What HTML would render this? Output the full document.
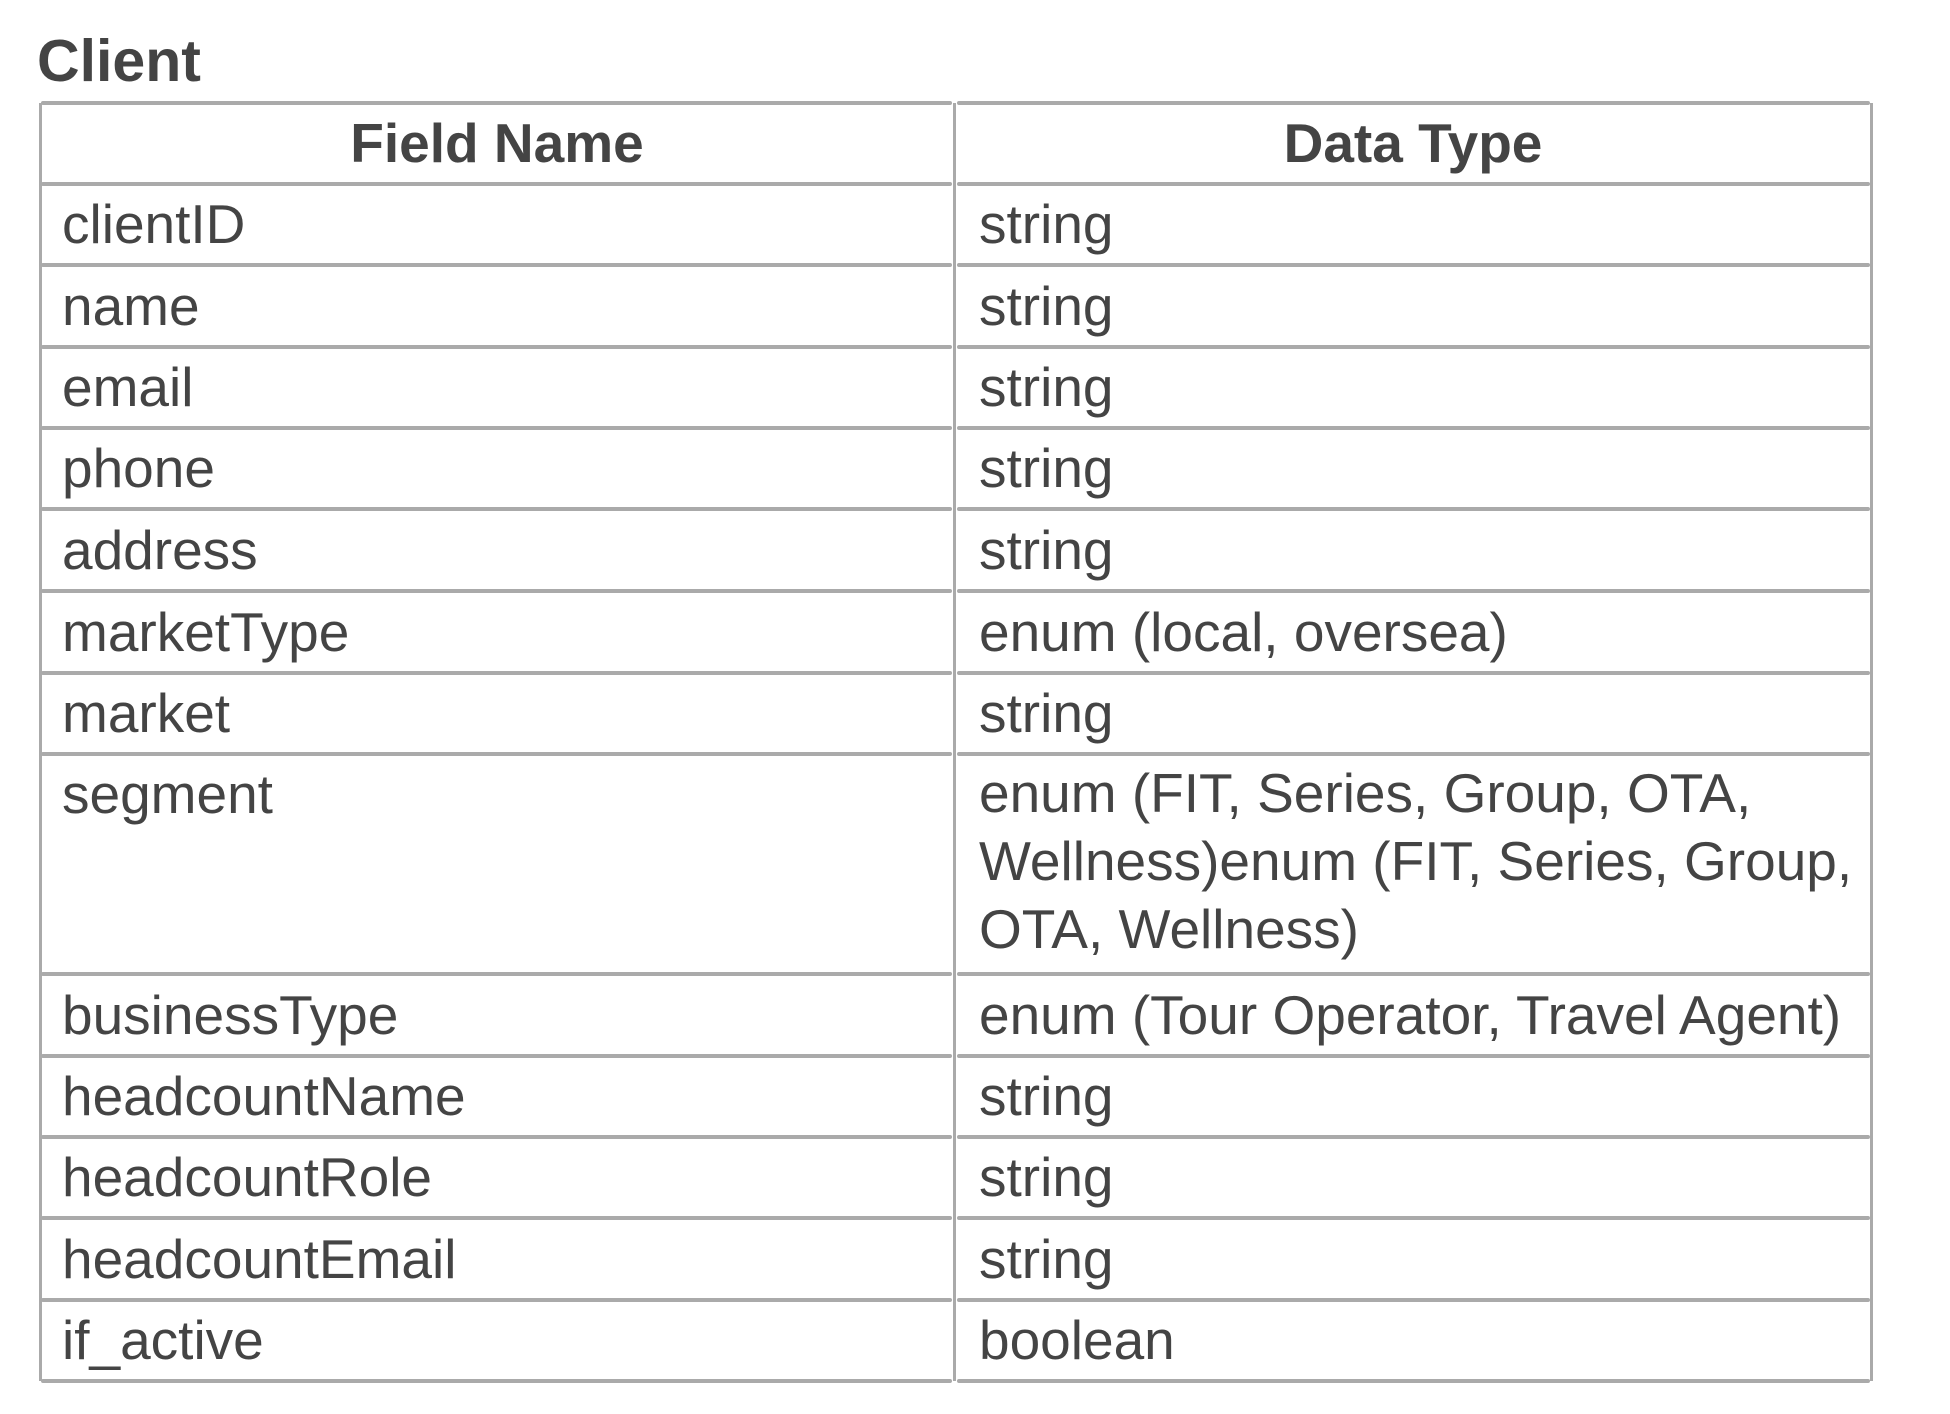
<!DOCTYPE html>
<html><head><meta charset="utf-8"><style>
html,body{margin:0;padding:0;background:#fff;width:1950px;height:1414px;overflow:hidden;}
body{position:relative;font-family:"Liberation Sans",Arial,sans-serif;color:#444;}
.t{position:absolute;left:37px;top:29px;font-size:59px;font-weight:bold;line-height:64px;}
.h{position:absolute;background:#aaa;height:4px;border-radius:2px;}
.v{position:absolute;background:#aaa;width:3px;}
.c{position:absolute;font-size:55px;white-space:nowrap;}
.b{font-weight:bold;font-size:55px;text-align:center;}
</style></head><body>
<div class="t">Client</div>
<div id="g"></div>
<script>
var ys=[103,184,265,347,428,509,591,673,754,974,1056,1137,1218,1300,1381];
var L=[["clientID","string"],["name","string"],["email","string"],["phone","string"],["address","string"],["marketType","enum (local, oversea)"],["market","string"],["segment","enum (FIT, Series, Group, OTA,<br>Wellness)enum (FIT, Series, Group,<br>OTA, Wellness)"],["businessType","enum (Tour Operator, Travel Agent)"],["headcountName","string"],["headcountRole","string"],["headcountEmail","string"],["if_active","boolean"]];
var h="";
ys.forEach(function(y){h+='<div class="h" style="left:41px;width:911px;top:'+(y-2)+'px"></div><div class="h" style="left:957px;width:913px;top:'+(y-2)+'px"></div>';});
[40,954,1871].forEach(function(x){h+='<div class="v" style="left:'+(x-1)+'px;top:103px;height:1278px"></div>';});
h+='<div class="c b" style="left:40px;width:914px;top:103px;line-height:81px">Field Name</div>';
h+='<div class="c b" style="left:955px;width:916px;top:103px;line-height:81px">Data Type</div>';
for(var i=0;i<L.length;i++){var t=ys[i+1],b=ys[i+2];
 if(i==7){h+='<div class="c" style="left:62px;top:'+t+'px;line-height:81px">'+L[i][0]+'</div><div class="c" style="left:979px;top:'+(t+5)+'px;line-height:68px">'+L[i][1]+'</div>';}
 else{h+='<div class="c" style="left:62px;top:'+t+'px;line-height:'+(b-t)+'px">'+L[i][0]+'</div><div class="c" style="left:979px;top:'+t+'px;line-height:'+(b-t)+'px">'+L[i][1]+'</div>';}}
document.getElementById("g").innerHTML=h;
</script>
</body></html>
